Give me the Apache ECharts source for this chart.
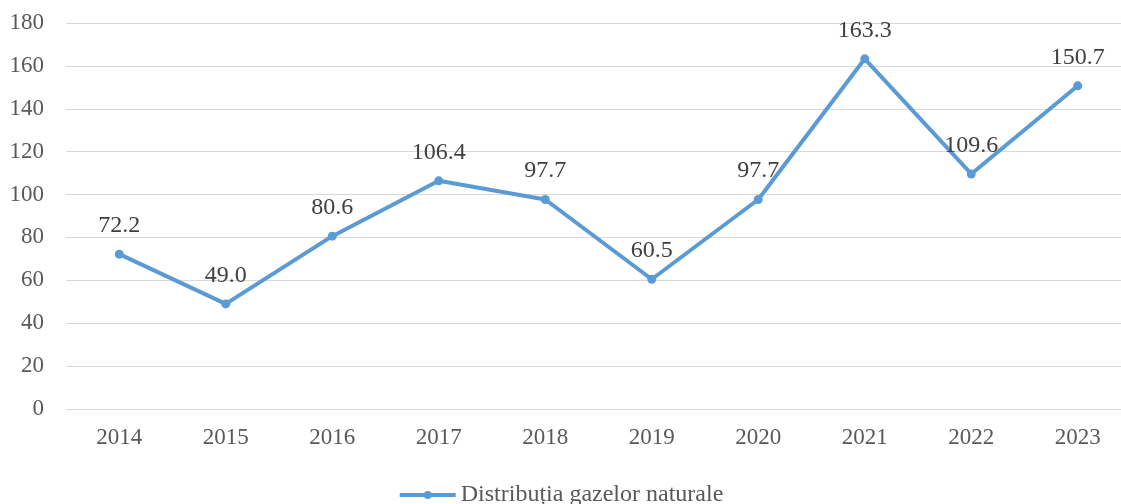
<!DOCTYPE html>
<html>
<head>
<meta charset="utf-8">
<script src="https://cdn.jsdelivr.net/npm/echarts@6/dist/echarts.min.js"></script>
<style>
  html, body { margin: 0; padding: 0; background: #fff; }
  #main { width: 1121px; height: 504px; }
</style>
</head>
<body>
<div id="main"></div>
<script>
// valori
const years = ['2014', '2015', '2016', '2017', '2018', '2019', '2020', '2021', '2022', '2023'];
const values = [72.2, 49.0, 80.6, 106.4, 97.7, 60.5, 97.7, 163.3, 109.6, 150.7];
const seriesName = 'Distribuția gazelor naturale';

const chart = echarts.init(document.getElementById('main'));
const font = 'Liberation Serif, Times New Roman, serif';

chart.setOption({
  animation: false,
  textStyle: { fontFamily: font },
  grid: { left: 66, width: 1065, top: 23, height: 386, outerBoundsMode: 'none' },
  legend: {
    top: 478,
    left: 'center',
    itemWidth: 56,
    itemHeight: 10,
    itemGap: 6,
    lineStyle: { width: 4 },
    textStyle: { fontFamily: font, fontSize: 24, color: '#595959' },
    data: [seriesName]
  },
  xAxis: {
    type: 'category',
    data: years,
    axisLine: { lineStyle: { color: '#d9d9d9' } },
    axisTick: { show: false },
    axisLabel: { fontFamily: font, fontSize: 23, color: '#595959', margin: 17 }
  },
  yAxis: {
    type: 'value',
    min: 0,
    max: 180,
    interval: 20,
    axisLine: { show: false },
    axisTick: { show: false },
    axisLabel: { fontFamily: font, fontSize: 23, color: '#595959', margin: 22 },
    splitLine: { lineStyle: { color: '#d9d9d9', width: 1 } }
  },
  series: [{
    name: seriesName,
    type: 'line',
    data: values,
    symbol: 'circle',
    symbolSize: 9,
    lineStyle: { color: '#5b9bd5', width: 4 },
    itemStyle: { color: '#5b9bd5' },
    label: {
      show: true,
      position: 'top',
      distance: 12,
      fontFamily: font,
      fontSize: 24,
      color: '#404040',
      formatter: p => p.value.toFixed(1)
    }
  }]
});
</script>
</body>
</html>
